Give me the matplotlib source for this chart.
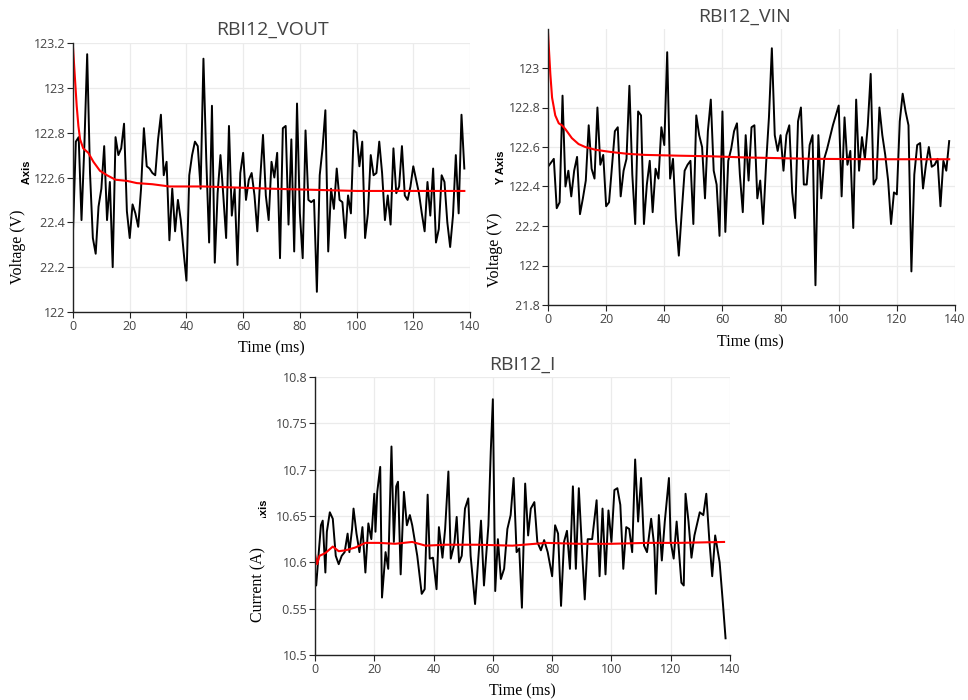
import matplotlib
matplotlib.use("Agg")
import matplotlib.pyplot as plt
from matplotlib.patches import Rectangle
from matplotlib.ticker import FuncFormatter

# ---- data ----
vout_t = list(range(0, 139))
vout = [122.36, 122.76, 122.78, 122.41, 122.74, 123.15, 122.62, 122.33, 122.26, 122.47,
        122.55, 122.74, 122.41, 122.58, 122.20, 122.78, 122.70, 122.73, 122.84, 122.45,
        122.33, 122.48, 122.44, 122.38, 122.55, 122.82, 122.65, 122.64, 122.62, 122.61,
        122.77, 122.88, 122.61, 122.67, 122.32, 122.55, 122.36, 122.50, 122.41, 122.27,
        122.14, 122.61, 122.70, 122.76, 122.74, 122.55, 123.13, 122.68, 122.31, 122.92,
        122.22, 122.53, 122.70, 122.52, 122.33, 122.83, 122.43, 122.55, 122.21, 122.62,
        122.71, 122.50, 122.59, 122.62, 122.52, 122.36, 122.59, 122.79, 122.52, 122.41,
        122.67, 122.60, 122.71, 122.24, 122.82, 122.83, 122.39, 122.77, 122.27, 122.93,
        122.44, 122.24, 122.81, 122.50, 122.49, 122.50, 122.09, 122.61, 122.73, 122.90,
        122.27, 122.55, 122.46, 122.64, 122.50, 122.49, 122.33, 122.52, 122.44, 122.81,
        122.80, 122.65, 122.76, 122.33, 122.44, 122.70, 122.61, 122.62, 122.76, 122.62,
        122.41, 122.52, 122.39, 122.73, 122.53, 122.56, 122.74, 122.52, 122.50, 122.56,
        122.65, 122.59, 122.53, 122.44, 122.36, 122.58, 122.43, 122.64, 122.31, 122.37,
        122.61, 122.58, 122.40, 122.29, 122.43, 122.70, 122.44, 122.88, 122.64]
vout_avg_t = [0, 0.7, 1.3, 1.9, 2.5, 3.6, 5.4, 7.2, 9.5, 12, 15, 19, 22.5, 28, 34, 46, 58, 70, 100, 138]
vout_avg = [123.18, 123.04, 122.92, 122.83, 122.77, 122.73, 122.71, 122.67, 122.63, 122.61,
            122.59, 122.585, 122.575, 122.57, 122.56, 122.56, 122.555, 122.55, 122.54, 122.54]

vin_t = list(range(0, 139))
vin = [122.50, 122.52, 122.54, 122.29, 122.32, 122.86, 122.40, 122.48, 122.35, 122.48,
       122.55, 122.26, 122.34, 122.43, 122.71, 122.49, 122.44, 122.80, 122.51, 122.56,
       122.30, 122.32, 122.50, 122.68, 122.70, 122.35, 122.48, 122.54, 122.91, 122.46,
       122.21, 122.78, 122.76, 122.21, 122.41, 122.53, 122.27, 122.49, 122.44, 122.70,
       122.61, 123.08, 122.44, 122.54, 122.24, 122.05, 122.27, 122.48, 122.51, 122.53,
       122.21, 122.76, 122.66, 122.60, 122.34, 122.68, 122.84, 122.48, 122.41, 122.15,
       122.78, 122.17, 122.53, 122.59, 122.68, 122.72, 122.46, 122.27, 122.66, 122.43,
       122.70, 122.71, 122.34, 122.43, 122.21, 122.51, 122.75, 123.10, 122.66, 122.58,
       122.66, 122.48, 122.66, 122.71, 122.37, 122.24, 122.73, 122.80, 122.41, 122.41,
       122.61, 122.66, 121.90, 122.66, 122.34, 122.54, 122.59, 122.65, 122.71, 122.76,
       122.81, 122.35, 122.75, 122.51, 122.58, 122.19, 122.84, 122.48, 122.65, 122.54,
       122.71, 122.97, 122.41, 122.44, 122.80, 122.66, 122.56, 122.43, 122.21, 122.37,
       122.36, 122.73, 122.87, 122.78, 122.71, 121.97, 122.46, 122.61, 122.62, 122.39,
       122.51, 122.60, 122.50, 122.51, 122.54, 122.30, 122.53, 122.48, 122.63]
vin_avg_t = [0, 0.8, 1.4, 2.5, 3.7, 4.8, 6, 8.2, 10.5, 12.8, 16.3, 22, 27.7, 33.4, 45, 56, 68, 91, 114, 138]
vin_avg = [123.18, 122.97, 122.85, 122.76, 122.72, 122.71, 122.69, 122.645, 122.615, 122.60,
           122.586, 122.574, 122.565, 122.56, 122.556, 122.553, 122.547, 122.54, 122.538, 122.538]

cur_t = [0, 0.4, 1, 2, 2.6, 3.5, 4, 5, 6, 7, 8, 9, 10, 11, 11.6, 12.5, 13, 14, 15, 16,
         17, 18, 19, 20, 20.4, 21, 22, 22.6, 23.8, 24.7, 25.8, 26.6, 27.4, 28, 28.9, 30,
         31, 32, 32.8, 34.5, 36, 37, 38, 38.7, 39.8, 41, 41.8, 43, 43.9, 45, 45.8, 47,
         47.8, 48.6, 49.5, 50.6, 51.7, 52.5, 54, 55, 56, 57, 58.5, 59.3, 60, 60.8, 61.7,
         62.7, 63.8, 64.9, 66, 67, 68, 68.9, 69.8, 70.9, 71.9, 72.8, 74, 75, 76.2, 77.3,
         78.5, 80, 81, 82, 83, 84, 85, 86, 87, 88, 89, 90, 91, 92, 93.5, 95, 96, 97, 98,
         99, 100, 101, 102, 103, 104, 105, 106, 107, 108, 109, 110, 111, 112, 113.4,
         114.5, 115, 116, 117, 118, 119.4, 120, 121, 122, 123.6, 124.4, 125, 126, 127,
         128, 129.8, 131, 132, 133, 134, 135, 136.5, 137.6, 138.5]
cur = [10.589, 10.575, 10.600, 10.640, 10.645, 10.589, 10.633, 10.654, 10.647, 10.607,
       10.598, 10.607, 10.611, 10.631, 10.611, 10.636, 10.658, 10.631, 10.611, 10.638,
       10.589, 10.642, 10.625, 10.674, 10.633, 10.676, 10.703, 10.562, 10.611, 10.593,
       10.725, 10.622, 10.682, 10.687, 10.587, 10.676, 10.640, 10.651, 10.640, 10.607,
       10.566, 10.571, 10.673, 10.604, 10.605, 10.571, 10.638, 10.605, 10.636, 10.698,
       10.604, 10.620, 10.649, 10.600, 10.607, 10.658, 10.669, 10.607, 10.555, 10.600,
       10.645, 10.575, 10.640, 10.720, 10.776, 10.569, 10.625, 10.582, 10.593, 10.636,
       10.651, 10.691, 10.611, 10.615, 10.551, 10.685, 10.629, 10.658, 10.665, 10.622,
       10.613, 10.624, 10.611, 10.585, 10.640, 10.631, 10.553, 10.622, 10.634, 10.593,
       10.682, 10.593, 10.680, 10.618, 10.560, 10.625, 10.625, 10.667, 10.585, 10.658,
       10.587, 10.656, 10.622, 10.678, 10.680, 10.662, 10.593, 10.638, 10.636, 10.611,
       10.711, 10.644, 10.691, 10.618, 10.611, 10.647, 10.616, 10.566, 10.651, 10.602,
       10.644, 10.691, 10.622, 10.604, 10.644, 10.578, 10.575, 10.674, 10.644, 10.605,
       10.629, 10.654, 10.651, 10.674, 10.625, 10.585, 10.629, 10.600, 10.556, 10.518]
cur_avg_t = [0, 0.7, 1.5, 3.5, 6, 8, 10.3, 13.6, 17, 21.5, 27, 32.8, 37.3, 44, 55, 66.6, 78, 89, 100, 112, 123, 138]
cur_avg = [10.609, 10.598, 10.607, 10.610, 10.617, 10.612, 10.613, 10.616, 10.621, 10.621,
           10.620, 10.622, 10.618, 10.619, 10.619, 10.618, 10.621, 10.620, 10.620, 10.621,
           10.621, 10.622]

W, H = 968, 700
fig = plt.figure(figsize=(W / 100, H / 100), dpi=100)
plt.rcParams["font.family"] = ["Open Sans", "DejaVu Sans"]


def px_axes(l, t, r, b):
    return fig.add_axes([l / W, 1 - b / H, (r - l) / W, (b - t) / H])


def ftext(x, y, s, **kw):
    fig.text(x / W, 1 - y / H, s, ha="center", va="center", **kw)


def style(ax, ylim, yticks, label_x):
    ax.set_xlim(0, 140)
    ax.set_ylim(*ylim)
    ax.set_xticks(range(0, 141, 20))
    ax.set_yticks(yticks)
    ax.yaxis.set_major_formatter(FuncFormatter(lambda v, p: f"{v:g}"))
    ax.grid(True, color="#ebebeb", lw=0.9)
    ax.set_axisbelow(True)
    for s in ["top", "right"]:
        ax.spines[s].set_visible(False)
    for s in ["left", "bottom"]:
        ax.spines[s].set_color("#222222")
        ax.spines[s].set_linewidth(1.0)
    ax.tick_params(direction="out", length=4, width=0.8, color="#222222",
                   labelsize=9, labelcolor="#444444", pad=1.5)
    ax.set_ylabel("Y Axis", fontsize=8, fontweight="bold", family="Liberation Sans")
    ax.yaxis.set_label_coords(label_x, 0.5)


ax1 = px_axes(73, 43, 470, 312)
ax1.plot(vout_t, vout, color="black", lw=1.4)
ax1.plot(vout_avg_t, vout_avg, color="red", lw=1.5)
style(ax1, (122, 123.2), [122, 122.2, 122.4, 122.6, 122.8, 123, 123.2], -0.103)

ax2 = px_axes(548, 28.5, 955, 305)
ax2.plot(vin_t, vin, color="black", lw=1.4)
ax2.plot(vin_avg_t, vin_avg, color="red", lw=1.5)
style(ax2, (121.8, 123.2), [121.8, 122, 122.2, 122.4, 122.6, 122.8, 123], -0.103)

ax3 = px_axes(315, 377, 730, 655)
ax3.plot(cur_t, cur, color="black", lw=1.4)
ax3.plot(cur_avg_t, cur_avg, color="red", lw=1.5)
style(ax3, (10.5, 10.8), [10.5, 10.55, 10.6, 10.65, 10.7, 10.75, 10.8], -0.111)

# titles
ftext(273, 30, "RBI12_VOUT", fontsize=14, color="#444444")
ftext(745, 17, "RBI12_VIN", fontsize=14, color="#444444")
ftext(522, 365, "RBI12_I", fontsize=14, color="#444444")

# x labels
serif = dict(family="Liberation Serif", fontsize=11.5, color="black")
ftext(271, 348, "Time (ms)", **serif)
ftext(750, 342, "Time (ms)", **serif)
ftext(522, 691, "Time (ms)", **serif)

# white patches behind the overlaid y labels
for l, t, r, b in [(0, 186, 39, 300), (484, 200, 516, 315),
                   (245, 518, 271, 648), (245, 525, 281, 648)]:
    fig.patches.append(Rectangle((l / W, 1 - b / H), (r - l) / W, (b - t) / H,
                                 transform=fig.transFigure, facecolor="white",
                                 edgecolor="none", zorder=2.5))
ftext(18, 247, "Voltage (V)", rotation=90, zorder=3, **serif)
ftext(495, 250, "Voltage (V)", rotation=90, zorder=3, **serif)
ftext(258, 585, "Current (A)", rotation=90, zorder=3, **serif)

fig.savefig("out.png", dpi=100)
